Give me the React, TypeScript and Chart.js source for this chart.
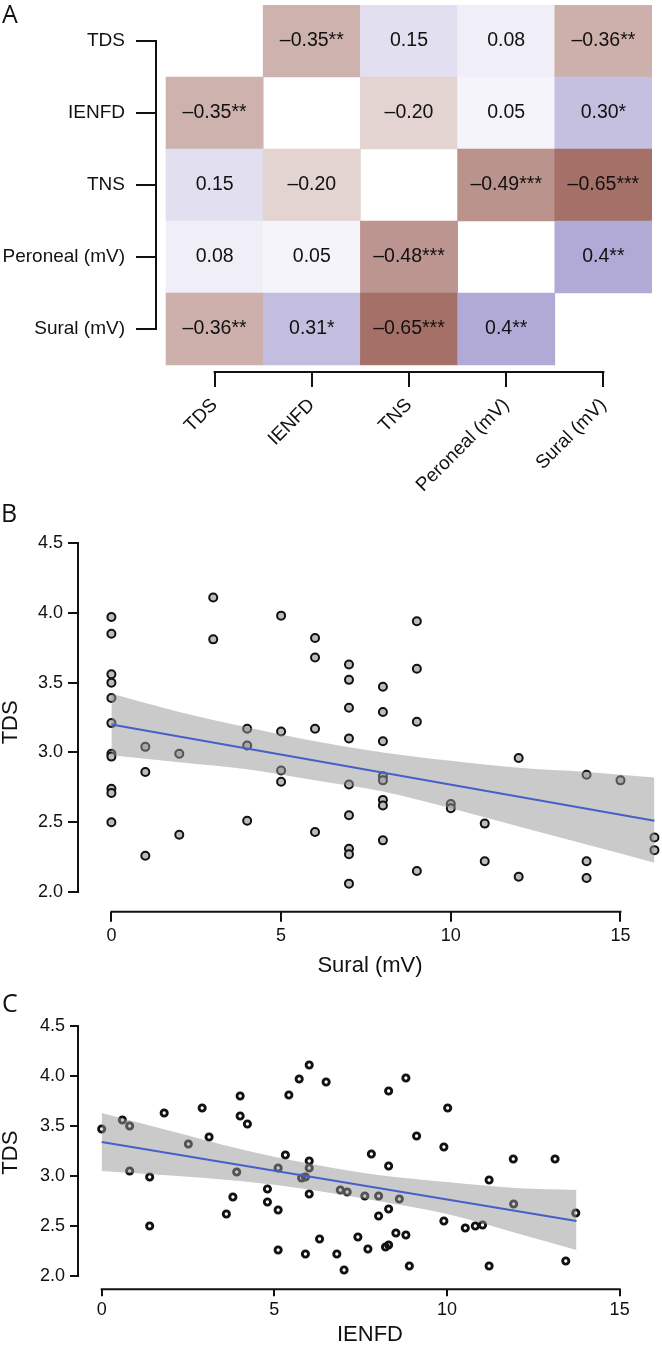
import React, { useEffect, useRef } from 'react';
import { Chart, registerables } from 'chart.js';

Chart.register(...registerables);

const FONT = "'Liberation Sans', Arial, Helvetica, sans-serif";
const INK = '#111111';

// ---------- Panel A: correlation matrix ----------
const heatLabels = ['TDS', 'IENFD', 'TNS', 'Peroneal (mV)', 'Sural (mV)'];
const heatTicks = [0, 1, 2, 3, 4];
const rowTDS = ['', '–0.35**', '0.15', '0.08', '–0.36**'];
const rowIENFD = ['–0.35**', '', '–0.20', '0.05', '0.30*'];
const rowTNS = ['0.15', '–0.20', '', '–0.49***', '–0.65***'];
const rowPeroneal = ['0.08', '0.05', '–0.48***', '', '0.4**'];
const rowSural = ['–0.36**', '0.31*', '–0.65***', '0.4**', ''];
const heatRows = [rowTDS, rowIENFD, rowTNS, rowPeroneal, rowSural];

// ---------- Panel B: TDS vs Sural ----------
const suralX = [
  0, 0, 0, 0, 0, 0, 0, 0, 0, 0, 0,
  1, 1, 1,
  2, 2,
  3, 3,
  4, 4, 4,
  5, 5, 5, 5,
  6, 6, 6, 6,
  7, 7, 7, 7, 7, 7, 7, 7, 7,
  8, 8, 8, 8, 8, 8, 8, 8,
  9, 9, 9, 9,
  10, 10,
  11, 11,
  12, 12,
  14, 14, 14,
  15,
  16, 16,
];
const suralTDS = [
  3.97, 3.85, 3.56, 3.5, 3.39, 3.21, 2.99, 2.97, 2.74, 2.71, 2.5,
  3.04, 2.86, 2.26,
  2.99, 2.41,
  4.11, 3.81,
  3.17, 3.05, 2.51,
  3.98, 3.15, 2.87, 2.79,
  3.82, 3.68, 3.17, 2.43,
  3.63, 3.52, 3.32, 3.1, 2.77, 2.55, 2.31, 2.27, 2.06,
  3.47, 3.29, 3.08, 2.83, 2.8, 2.66, 2.62, 2.37,
  3.94, 3.6, 3.22, 2.15,
  2.63, 2.6,
  2.49, 2.22,
  2.96, 2.11,
  2.84, 2.22, 2.1,
  2.8,
  2.39, 2.3,
];
const bFitX = [0, 16];
const bFitY = [3.2, 2.51];
const bBandX = [0, 2, 4, 6, 8, 10, 12, 14, 16];
const bBandUpper = [3.42, 3.29, 3.18, 3.08, 3.0, 2.94, 2.89, 2.86, 2.82];
const bBandLower = [2.98, 2.93, 2.88, 2.8, 2.72, 2.6, 2.47, 2.34, 2.21];
const bXTicks = [0, 5, 10, 15];
const bYTicks = [2.0, 2.5, 3.0, 3.5, 4.0, 4.5];

// ---------- Panel C: TDS vs IENFD ----------
const ienfdX = [
  0.0, 0.6, 0.81, 0.81, 1.39, 1.39, 1.81, 2.51, 2.91, 3.11, 3.61, 3.8, 3.91, 4.01, 4.01, 4.22,
  4.8, 4.8, 5.11, 5.11, 5.11, 5.32, 5.42, 5.72, 5.79, 5.9, 5.9, 6.01, 6.01, 6.01, 6.01, 6.31,
  6.5, 6.81, 6.91, 7.02, 7.11, 7.42, 7.62, 7.71, 7.81, 8.02, 8.02, 8.22, 8.31, 8.31, 8.31, 8.31,
  8.52, 8.62, 8.81, 8.81, 8.91, 9.12, 9.91, 9.91, 10.02, 10.53, 10.82, 11.03, 11.22, 11.22,
  11.92, 11.93, 13.13, 13.44, 13.73,
];
const ienfdTDS = [
  3.47, 3.56, 3.5, 3.05, 2.99, 2.5, 3.63, 3.32, 3.68, 3.39, 2.62, 2.79, 3.04, 3.8, 3.6, 3.52,
  2.87, 2.74, 3.08, 2.66, 2.26, 3.21, 3.81, 3.97, 2.98, 2.99, 2.22, 4.11, 3.15, 3.08, 2.82, 2.37,
  3.94, 2.22, 2.86, 2.06, 2.84, 2.39, 2.8, 2.27, 3.22, 2.8, 2.6, 2.29, 3.85, 3.1, 2.67, 2.31,
  2.43, 2.77, 3.98, 2.41, 2.1, 3.4, 3.29, 2.55, 3.68, 2.48, 2.5, 2.51, 2.96, 2.1,
  3.17, 2.72, 3.17, 2.15, 2.63,
];
const cFitX = [0, 13.75];
const cFitY = [3.34, 2.55];
const cBandX = [0, 2, 4, 6, 8, 10, 12, 13.75];
const cBandUpper = [3.63, 3.45, 3.27, 3.125, 3.01, 2.94, 2.88, 2.86];
const cBandLower = [3.05, 3.005, 2.95, 2.865, 2.75, 2.62, 2.43, 2.26];
const cXTicks = [0, 5, 10, 15];
const cYTicks = [2.0, 2.5, 3.0, 3.5, 4.0, 4.5];

// ---------- helpers ----------
function heatColor(v: number): string {
  if (v < 0) {
    const t = -v;
    return `rgb(${Math.round(255 - 140 * t)},${Math.round(255 - 220 * t)},${Math.round(255 - 232 * t)})`;
  }
  return `rgb(${Math.round(255 - 192 * v)},${Math.round(255 - 212 * v)},${Math.round(255 - 102 * v)})`;
}
function parseCell(s: string): number {
  return parseFloat(s.replace('–', '-').replace(/\*/g, ''));
}
const zip = (xs: number[], ys: number[]) => xs.map((x, i) => ({ x, y: ys[i] }));

const rAxisPlugin = {
  id: 'rAxis',
  afterDraw(chart: any) {
    const ctx = chart.ctx;
    const { left, bottom } = chart.chartArea;
    ['x', 'y'].forEach((id) => {
      const s = chart.scales[id];
      const t = s.ticks;
      if (!t || !t.length) return;
      const a = s.getPixelForValue(t[0].value);
      const b = s.getPixelForValue(t[t.length - 1].value);
      ctx.save();
      ctx.strokeStyle = INK;
      ctx.lineWidth = 2;
      ctx.lineCap = 'square';
      ctx.beginPath();
      if (id === 'x') {
        ctx.moveTo(a, bottom);
        ctx.lineTo(b, bottom);
      } else {
        ctx.moveTo(left, a);
        ctx.lineTo(left, b);
      }
      ctx.stroke();
      ctx.restore();
    });
  },
};

const cellTextPlugin = {
  id: 'cellText',
  afterDatasetsDraw(chart: any) {
    const ctx = chart.ctx;
    const meta = chart.getDatasetMeta(0);
    const texts: string[] = chart.data.datasets[0].cellText;
    ctx.save();
    ctx.fillStyle = INK;
    ctx.font = `19.5px ${FONT}`;
    ctx.textAlign = 'center';
    ctx.textBaseline = 'middle';
    meta.data.forEach((el: any, i: number) => {
      const p = el.getProps(['x', 'y', 'base'], true);
      ctx.fillText(texts[i], p.x, (p.y + p.base) / 2);
    });
    ctx.restore();
  },
};

function tickSetter(values: number[]) {
  return (s: any) => {
    s.ticks = values.map((v) => ({ value: v }));
  };
}

function makeHeat(canvas: HTMLCanvasElement) {
  const cells: any[] = [];
  const colors: string[] = [];
  const texts: string[] = [];
  heatRows.forEach((row, r) => {
    row.forEach((s, c) => {
      if (!s) return;
      cells.push({ x: c, y: [r - 0.5, r + 0.5] });
      colors.push(heatColor(parseCell(s)));
      texts.push(s);
    });
  });
  return new Chart(canvas, {
    type: 'bar',
    data: {
      datasets: [
        {
          data: cells,
          backgroundColor: colors,
          borderWidth: 0,
          borderSkipped: false,
          barPercentage: 1,
          categoryPercentage: 1,
          cellText: texts,
        } as any,
      ],
    },
    options: {
      responsive: false,
      animation: false,
      events: [],
      layout: { padding: { top: 5, right: 10, left: 0, bottom: 0 }, autoPadding: false } as any,
      plugins: { legend: { display: false }, tooltip: { enabled: false } },
      scales: {
        x: {
          type: 'linear',
          offset: false,
          min: -0.603,
          max: 4.5,
          afterBuildTicks: tickSetter(heatTicks),
          afterFit: (s: any) => {
            s.height = 128;
            s.paddingLeft = 0;
            s.paddingRight = 0;
          },
          ticks: {
            autoSkip: false,
            minRotation: 45,
            maxRotation: 45,
            padding: 7,
            color: INK,
            font: { family: FONT, size: 19 },
            callback: (_v: any, i: number) => heatLabels[i],
          },
          grid: { display: true, offset: false, drawOnChartArea: false, drawTicks: true, tickLength: 15, color: INK, lineWidth: 2 },
          border: { display: false },
        },
        y: {
          type: 'linear',
          reverse: true,
          min: -0.5,
          max: 4.597,
          afterBuildTicks: tickSetter(heatTicks),
          afterFit: (s: any) => {
            s.width = 156;
            s.paddingTop = 0;
            s.paddingBottom = 0;
          },
          ticks: {
            autoSkip: false,
            padding: 11,
            color: INK,
            font: { family: FONT, size: 19 },
            callback: (_v: any, i: number) => heatLabels[i],
          },
          grid: { display: true, drawOnChartArea: false, drawTicks: true, tickLength: 20, color: INK, lineWidth: 2 },
          border: { display: false },
        },
      } as any,
    },
    plugins: [cellTextPlugin, rAxisPlugin],
  });
}

interface ScatterCfg {
  px: number[];
  py: number[];
  fitX: number[];
  fitY: number[];
  bandX: number[];
  bandUp: number[];
  bandLo: number[];
  xTicks: number[];
  yTicks: number[];
  xMin: number;
  xMax: number;
  yMin: number;
  yMax: number;
  padTop: number;
  xAxisH: number;
  xTickLen: number;
  xTickPad: number;
  yTickLen: number;
  yTickPad: number;
  xTitle: string;
  xTitlePad: number;
  pointRadius: number;
  pointBorder: number;
  pointFill: string;
}

function makeScatter(canvas: HTMLCanvasElement, c: ScatterCfg) {
  const bandFill = 'rgba(150,150,150,0.5)';
  return new Chart(canvas, {
    type: 'scatter',
    data: {
      datasets: [
        {
          type: 'line',
          data: zip(c.fitX, c.fitY),
          borderColor: 'rgb(70,96,200)',
          borderWidth: 2,
          pointRadius: 0,
          fill: false,
          order: 0,
        },
        {
          type: 'line',
          data: zip(c.bandX, c.bandUp),
          borderColor: 'rgba(0,0,0,0)',
          borderWidth: 0,
          pointRadius: 0,
          backgroundColor: bandFill,
          fill: '+1',
          tension: 0.4,
          cubicInterpolationMode: 'monotone',
          order: 1,
        },
        {
          type: 'line',
          data: zip(c.bandX, c.bandLo),
          borderColor: 'rgba(0,0,0,0)',
          borderWidth: 0,
          pointRadius: 0,
          fill: false,
          tension: 0.4,
          cubicInterpolationMode: 'monotone',
          order: 2,
        },
        {
          type: 'scatter',
          data: zip(c.px, c.py),
          pointRadius: c.pointRadius,
          borderWidth: c.pointBorder,
          borderColor: INK,
          backgroundColor: c.pointFill,
          clip: false,
          order: 3,
        },
      ] as any,
    },
    options: {
      responsive: false,
      animation: false,
      events: [],
      layout: { padding: { top: c.padTop, right: 0, left: 0, bottom: 0 }, autoPadding: false } as any,
      plugins: { legend: { display: false }, tooltip: { enabled: false } },
      scales: {
        x: {
          type: 'linear',
          min: c.xMin,
          max: c.xMax,
          afterBuildTicks: tickSetter(c.xTicks),
          afterFit: (s: any) => {
            s.height = c.xAxisH;
            s.paddingLeft = 0;
            s.paddingRight = 0;
          },
          ticks: {
            autoSkip: false,
            maxRotation: 0,
            minRotation: 0,
            padding: c.xTickPad,
            color: INK,
            font: { family: FONT, size: 18 },
            callback: (v: any) => String(v),
          },
          grid: { display: true, drawOnChartArea: false, drawTicks: true, tickLength: c.xTickLen, color: INK, lineWidth: 2 },
          border: { display: false },
          title: {
            display: true,
            text: c.xTitle,
            color: INK,
            font: { family: FONT, size: 22, lineHeight: 1 },
            padding: { top: 0, bottom: c.xTitlePad },
          },
        },
        y: {
          type: 'linear',
          min: c.yMin,
          max: c.yMax,
          afterBuildTicks: tickSetter(c.yTicks),
          afterFit: (s: any) => {
            s.width = 78;
            s.paddingTop = 0;
            s.paddingBottom = 0;
          },
          ticks: {
            autoSkip: false,
            padding: c.yTickPad,
            color: INK,
            font: { family: FONT, size: 18 },
            callback: (v: any) => Number(v).toFixed(1),
          },
          grid: { display: true, drawOnChartArea: false, drawTicks: true, tickLength: c.yTickLen, color: INK, lineWidth: 2 },
          border: { display: false },
          title: {
            display: true,
            text: 'TDS',
            color: INK,
            font: { family: FONT, size: 22, lineHeight: 1 },
            padding: { top: 0, bottom: 0 },
          },
        },
      } as any,
    },
    plugins: [rAxisPlugin],
  });
}

export default function App() {
  const aRef = useRef<HTMLCanvasElement>(null);
  const bRef = useRef<HTMLCanvasElement>(null);
  const cRef = useRef<HTMLCanvasElement>(null);

  useEffect(() => {
    const charts: Chart[] = [];
    if (aRef.current) charts.push(makeHeat(aRef.current));
    if (bRef.current)
      charts.push(
        makeScatter(bRef.current, {
          px: suralX,
          py: suralTDS,
          fitX: bFitX,
          fitY: bFitY,
          bandX: bBandX,
          bandUp: bBandUpper,
          bandLo: bBandLower,
          xTicks: bXTicks,
          yTicks: bYTicks,
          xMin: -0.984,
          xMax: 16.223,
          yMin: 1.859,
          yMax: 4.572,
          padTop: 33,
          xAxisH: 78.3,
          xTickLen: 10,
          xTickPad: 4,
          yTickLen: 10,
          yTickPad: 5,
          xTitle: 'Sural (mV)',
          xTitlePad: 13,
          pointRadius: 4,
          pointBorder: 2,
          pointFill: '#bdbdbd',
        })
      );
    if (cRef.current)
      charts.push(
        makeScatter(cRef.current, {
          px: ienfdX,
          py: ienfdTDS,
          fitX: cFitX,
          fitY: cFitY,
          bandX: cBandX,
          bandUp: cBandUpper,
          bandLo: cBandLower,
          xTicks: cXTicks,
          yTicks: cYTicks,
          xMin: -0.686,
          xMax: 16.227,
          yMin: 1.867,
          yMax: 4.6,
          padTop: 26,
          xAxisH: 55.7,
          xTickLen: 7,
          xTickPad: 3,
          yTickLen: 8,
          yTickPad: 5,
          xTitle: 'IENFD',
          xTitlePad: -1,
          pointRadius: 3.1,
          pointBorder: 2.9,
          pointFill: 'rgba(255,255,255,0)',
        })
      );
    return () => charts.forEach((ch) => ch.destroy());
  }, []);

  const letter = (t: string, top: number, left: number) => (
    <div
      style={{
        position: 'absolute',
        top,
        left,
        fontFamily: "'Open Sans', sans-serif",
        fontSize: 25,
        lineHeight: '25px',
        color: INK,
      }}
    >
      {t}
    </div>
  );

  return (
    <div
      style={{
        position: 'absolute',
        left: 0,
        top: 0,
        width: 662,
        height: 1345,
        overflow: 'hidden',
        background: '#ffffff',
      }}
    >
      <canvas ref={aRef} width={662} height={500} style={{ position: 'absolute', left: 0, top: 0, width: 662, height: 500 }} />
      <canvas ref={bRef} width={662} height={490} style={{ position: 'absolute', left: 0, top: 500, width: 662, height: 490 }} />
      <canvas ref={cRef} width={662} height={355} style={{ position: 'absolute', left: 0, top: 990, width: 662, height: 355 }} />
      {letter('A', 1, 2)}
      {letter('B', 500, 1)}
      {letter('C', 990, 2)}
    </div>
  );
}
